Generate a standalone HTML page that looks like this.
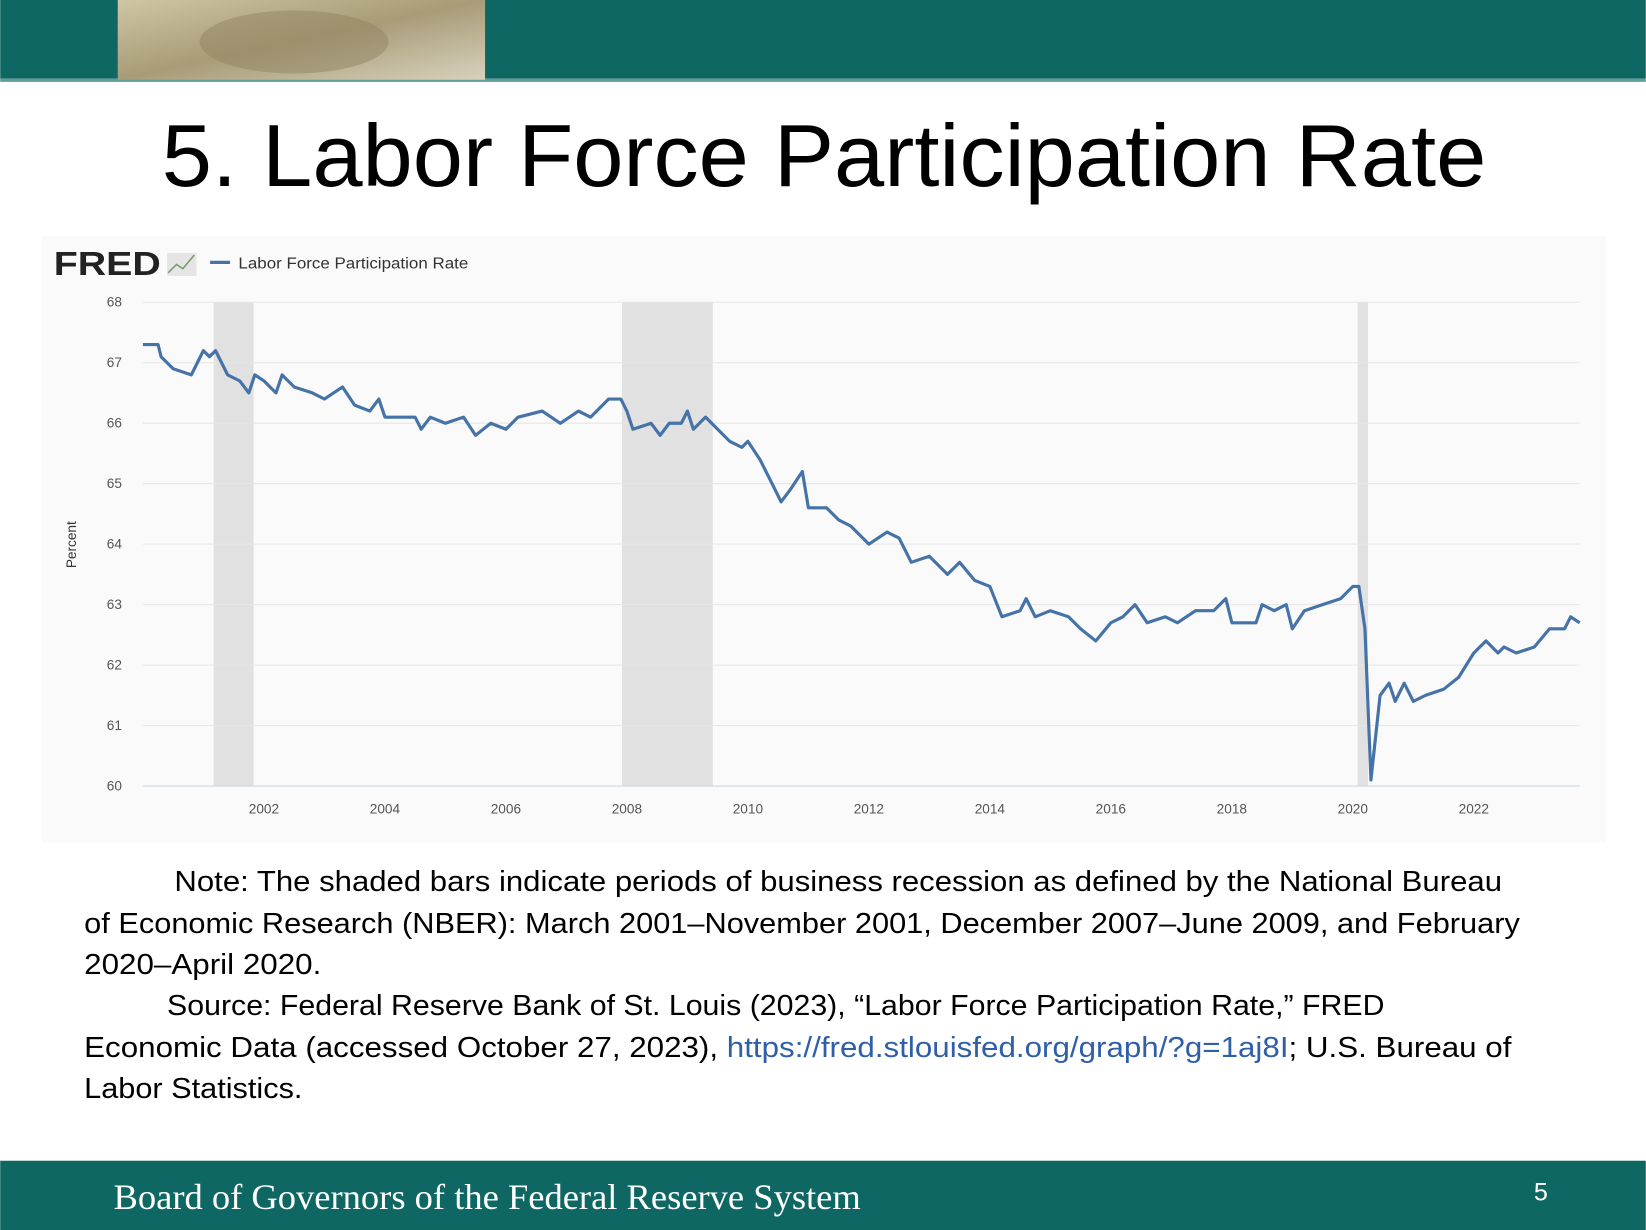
<!DOCTYPE html>
<html><head><meta charset="utf-8"><style>
html,body{margin:0;padding:0;background:#fff;overflow:hidden}
svg{display:block}
</style></head><body>
<svg id="s" width="1646" height="1230" viewBox="0 0 1568 1172" xmlns="http://www.w3.org/2000/svg" font-family="Liberation Sans, sans-serif">
<defs><linearGradient id="seal" x1="0" y1="0" x2="1" y2="1"><stop offset="0" stop-color="#cfc6a4"/><stop offset="0.5" stop-color="#a89c78"/><stop offset="1" stop-color="#d8d2bc"/></linearGradient></defs>
<rect x="0" y="0" width="1568" height="75" fill="#0f6763"/>
<rect x="0" y="75" width="1568" height="3" fill="#5e9d98"/>
<rect x="112" y="0" width="350" height="76" fill="url(#seal)"/>
<ellipse cx="280" cy="40" rx="90" ry="30" fill="#8f8462" opacity="0.5"/>
<text x="785" y="177" text-anchor="middle" font-size="84" font-family="Liberation Sans, sans-serif" textLength="1262" lengthAdjust="spacingAndGlyphs" fill="#000">5. Labor Force Participation Rate</text>
<rect x="40" y="225" width="1490" height="578" fill="#fafafa"/>
<text x="51" y="262" font-size="32" font-weight="bold" fill="#222" textLength="102" lengthAdjust="spacingAndGlyphs">FRED</text>
<rect x="159" y="241" width="28" height="22" fill="#e5e5e5"/>
<polyline points="160,260 168,252 174,256 185,243" fill="none" stroke="#7a9e6a" stroke-width="1.5"/>
<line x1="200" y1="250" x2="219" y2="250" stroke="#4572a7" stroke-width="3"/>
<text x="227" y="256" font-size="15" fill="#333" textLength="219" lengthAdjust="spacingAndGlyphs">Labor Force Participation Rate</text>
<text transform="translate(72,519) rotate(-90)" text-anchor="middle" font-size="13" fill="#333">Percent</text>
<g id="plot"></g>
<text x="166" y="849" font-size="27" fill="#000" textLength="1265" lengthAdjust="spacingAndGlyphs">Note: The shaded bars indicate periods of business recession as defined by the National Bureau</text>
<text x="80" y="889" font-size="27" fill="#000" textLength="1368" lengthAdjust="spacingAndGlyphs">of Economic Research (NBER): March 2001–November 2001, December 2007–June 2009, and February</text>
<text x="80" y="928" font-size="27" fill="#000" textLength="226" lengthAdjust="spacingAndGlyphs">2020–April 2020.</text>
<text x="159" y="967" font-size="27" fill="#000" textLength="1160" lengthAdjust="spacingAndGlyphs">Source: Federal Reserve Bank of St. Louis (2023), “Labor Force Participation Rate,” FRED</text>
<text x="80" y="1007" font-size="27" fill="#000" textLength="1360" lengthAdjust="spacingAndGlyphs">Economic Data (accessed October 27, 2023), <tspan fill="#2e5fa8">https://fred.stlouisfed.org/graph/?g=1aj8I</tspan>; U.S. Bureau of</text>
<text x="80" y="1046" font-size="27" fill="#000" textLength="208" lengthAdjust="spacingAndGlyphs">Labor Statistics.</text>
<rect x="0" y="1106" width="1568" height="66" fill="#0f6763"/>
<text x="108" y="1152" font-size="34" font-family="Liberation Serif, serif" fill="#fff" textLength="712" lengthAdjust="spacingAndGlyphs">Board of Governors of the Federal Reserve System</text>
<text x="1468" y="1144" text-anchor="middle" font-size="24" fill="#fff">5</text>
</svg>
<script>
const yTicks=[60,61,62,63,64,65,66,67,68];
const xTicks=[2002,2004,2006,2008,2010,2012,2014,2016,2018,2020,2022];
const recessionStarts=[2001.17,2007.92,2020.08];
const recessionEnds=[2001.83,2009.42,2020.25];
const dates=[2000.0,2000.25,2000.3,2000.5,2000.8,2001.0,2001.1,2001.2,2001.4,2001.6,2001.75,2001.85,2002.0,2002.2,2002.3,2002.5,2002.8,2003.0,2003.3,2003.5,2003.75,2003.9,2004.0,2004.5,2004.6,2004.75,2005.0,2005.3,2005.5,2005.75,2006.0,2006.2,2006.6,2006.9,2007.2,2007.4,2007.7,2007.9,2008.0,2008.1,2008.4,2008.55,2008.7,2008.9,2009.0,2009.1,2009.3,2009.5,2009.7,2009.9,2010.0,2010.2,2010.4,2010.55,2010.7,2010.9,2011.0,2011.3,2011.5,2011.7,2012.0,2012.3,2012.5,2012.7,2013.0,2013.3,2013.5,2013.75,2014.0,2014.2,2014.5,2014.6,2014.75,2015.0,2015.3,2015.5,2015.75,2016.0,2016.2,2016.4,2016.6,2016.9,2017.1,2017.4,2017.7,2017.9,2018.0,2018.4,2018.5,2018.7,2018.9,2019.0,2019.2,2019.5,2019.8,2020.0,2020.1,2020.2,2020.3,2020.45,2020.6,2020.7,2020.85,2021.0,2021.2,2021.5,2021.75,2022.0,2022.2,2022.4,2022.5,2022.7,2023.0,2023.25,2023.5,2023.6,2023.75];
const values=[67.3,67.3,67.1,66.9,66.8,67.2,67.1,67.2,66.8,66.7,66.5,66.8,66.7,66.5,66.8,66.6,66.5,66.4,66.6,66.3,66.2,66.4,66.1,66.1,65.9,66.1,66.0,66.1,65.8,66.0,65.9,66.1,66.2,66.0,66.2,66.1,66.4,66.4,66.2,65.9,66.0,65.8,66.0,66.0,66.2,65.9,66.1,65.9,65.7,65.6,65.7,65.4,65.0,64.7,64.9,65.2,64.6,64.6,64.4,64.3,64.0,64.2,64.1,63.7,63.8,63.5,63.7,63.4,63.3,62.8,62.9,63.1,62.8,62.9,62.8,62.6,62.4,62.7,62.8,63.0,62.7,62.8,62.7,62.9,62.9,63.1,62.7,62.7,63.0,62.9,63.0,62.6,62.9,63.0,63.1,63.3,63.3,62.6,60.1,61.5,61.7,61.4,61.7,61.4,61.5,61.6,61.8,62.2,62.4,62.2,62.3,62.2,62.3,62.6,62.6,62.8,62.7];
const NS='http://www.w3.org/2000/svg';
const X0=136,X1=1505,Y0=749,Y1=288,D0=2000.0,D1=2023.75;
const x=d=>X0+(d-D0)/(D1-D0)*(X1-X0);
const y=v=>Y0-(v-60)/(68-60)*(Y0-Y1);
const g=document.getElementById('plot');
function mk(t,a){const e=document.createElementNS(NS,t);for(const k in a)e.setAttribute(k,a[k]);g.appendChild(e);return e;}
recessionStarts.forEach((s,i)=>{
 const r=mk('rect',{x:x(s),y:Y1,width:Math.max(x(recessionEnds[i])-x(s),1),height:Y0-Y1,fill:'#e1e1e1'});
 
 
});
yTicks.forEach(v=>{
 const l=mk('line',{x1:X0,x2:X1,y1:y(v),y2:y(v),stroke:v===60?'#ccd6eb':'#e6e6e6','stroke-width':1});
 
 
 const t=mk('text',{x:116,y:y(v)+4,'text-anchor':'end','font-size':13,fill:'#555'});
 t.textContent=v;
 
 
});
xTicks.forEach(d=>{
 const t=mk('text',{x:x(d),y:775,'text-anchor':'middle','font-size':13,fill:'#555'});
 t.textContent=d;
 
 
});
const pts=dates.map((d,i)=>x(d).toFixed(1)+','+y(values[i]).toFixed(1)).join(' ');
const line=mk('polyline',{points:pts,fill:'none',stroke:'#4572a7','stroke-width':3,'stroke-linejoin':'round'});


</script>
</body></html>
